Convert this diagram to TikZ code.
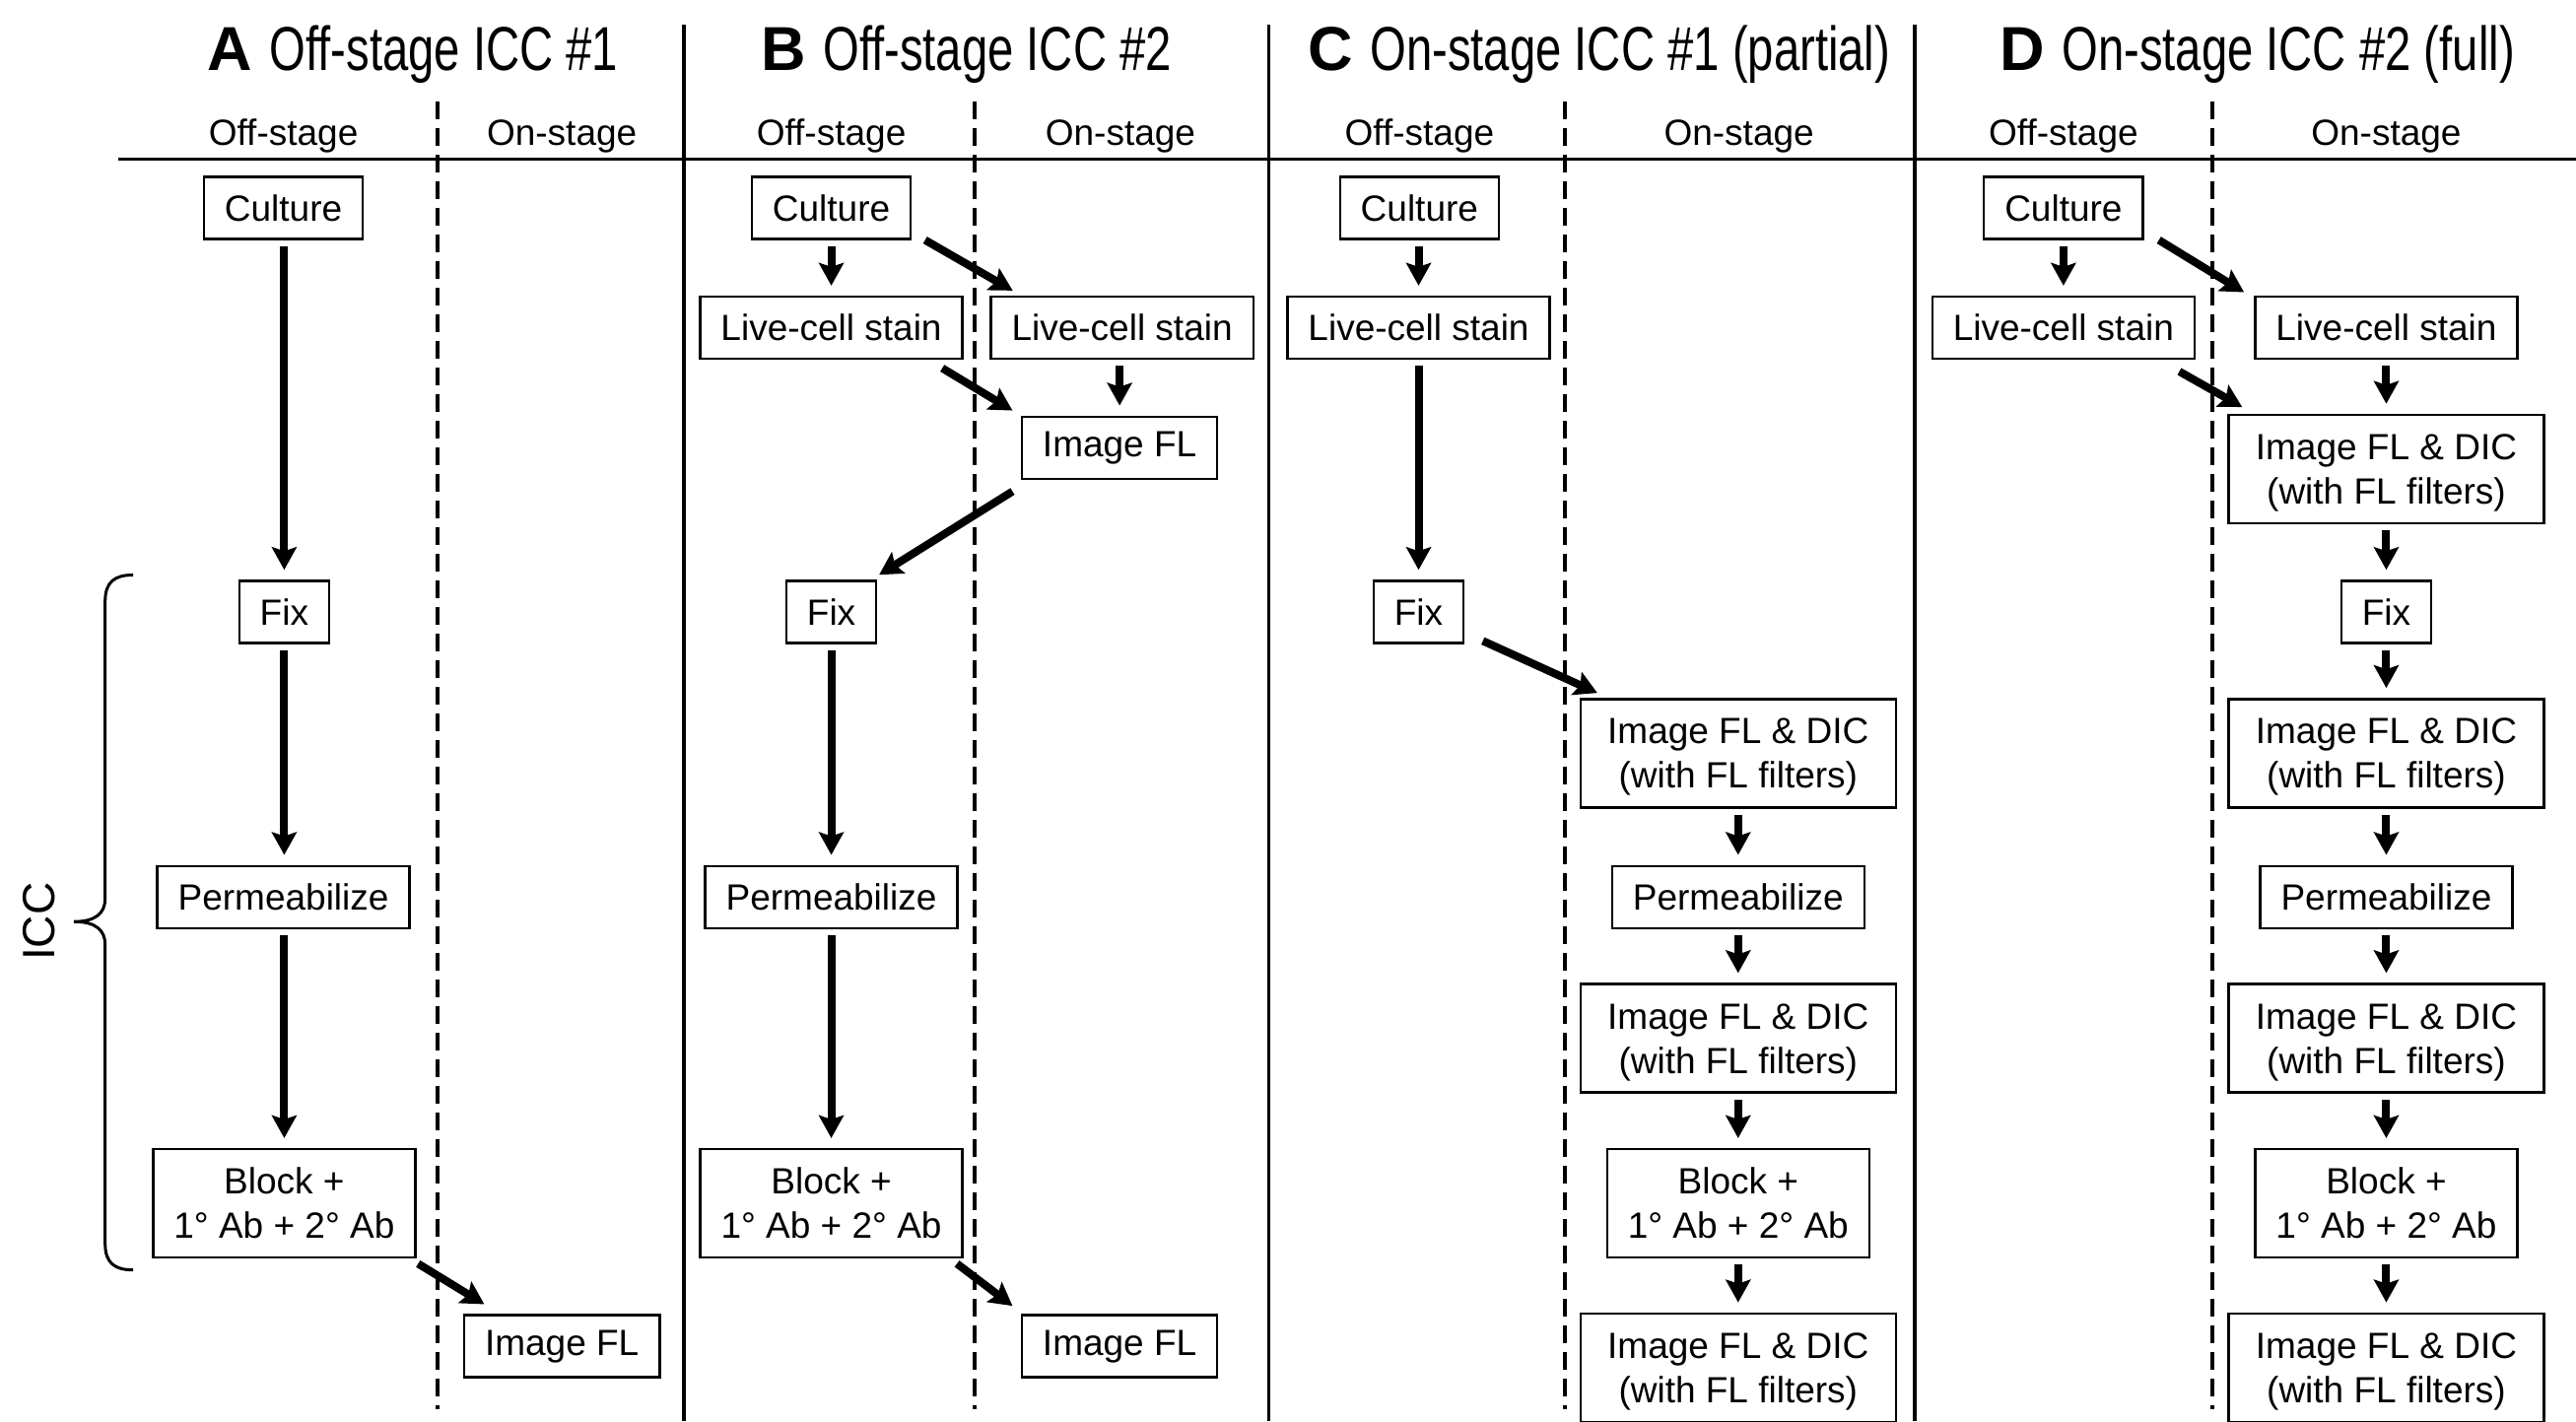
\documentclass[tikz,border=0pt]{standalone}
\usepackage{fontspec}
\setmainfont{Liberation Sans}
\newfontfamily\narrowsans[FakeStretch=0.75]{Liberation Sans}
\usetikzlibrary{arrows.meta}
\newcommand\boxfont{\fontsize{18.5}{22.5}\selectfont}
\newcommand\titlesize{\fontsize{31.5}{36}\selectfont}
\newcommand\iccsize{\fontsize{23}{26}\selectfont}

\begin{document}
\begin{tikzpicture}[x=0.8335pt,y=-0.8335pt,
  stepbox/.style={draw,line width=1.2pt,inner xsep=10.5pt,inner ysep=0pt,minimum height=31.5pt,font=\boxfont},
  twobox/.style={stepbox,align=center,minimum height=55pt},
  imgbox/.style={twobox,minimum width=160pt,text depth=0pt},
  head/.style={anchor=base,font=\boxfont},
  flow/.style={line width=4pt,-{Stealth[length=11.5pt,width=12.5pt,inset=2pt]}},
  down/.style={flow,shorten <=3pt,shorten >=5pt},
  lane/.style={line width=2pt,dash pattern=on 9pt off 4.5pt},
  rule/.style={line width=1.7pt}]
\useasboundingbox (0,0) rectangle (1568,865);

% grid
\draw[rule] (72,97) -- (1568,97);
\foreach \xs in {416.3,772.3,1165.5} \draw[rule] (\xs,15) -- (\xs,865);
\foreach \xd in {266.4,593.4,952.6,1346.5} \draw[lane] (\xd,62) -- (\xd,858);

\node[anchor=base west,font=\titlesize] (ttlA) at (122,43) {\textbf{A} {\narrowsans Off-stage ICC \#1}};
\node[anchor=base west,font=\titlesize] (ttlB) at (459,43) {\textbf{B} {\narrowsans Off-stage ICC \#2}};
\node[anchor=base west,font=\titlesize] (ttlC) at (792,43) {\textbf{C} {\narrowsans On-stage ICC \#1 (partial)}};
\node[anchor=base west,font=\titlesize] (ttlD) at (1213,43) {\textbf{D} {\narrowsans On-stage ICC \#2 (full)}};
\foreach \xo/\xn/\p in {172.5/342/A,506/682/B,864/1058.5/C,1256/1452.5/D} {
  \node[head] (off\p) at (\xo,88.6) {Off-stage};
  \node[head] (on\p) at (\xn,88.6) {On-stage};
}

% A
\node[stepbox] (acult) at (172.5,126.5) {Culture};
\node[stepbox] (afix) at (173,372.5) {Fix};
\node[stepbox] (aperm) at (172.5,546) {Permeabilize};
\node[twobox] (ablock) at (173,732.5) {Block +\\1° Ab + 2° Ab};
\node[stepbox] (aimg) at (342,819.5) {Image FL};
\draw[down] (afix.north |- acult.south) -- (afix.north);
\draw[down] (afix.south) -- (afix.south |- aperm.north);
\draw[down] (afix.south |- aperm.south) -- (afix.south |- ablock.north);
\draw[flow] ([shift={(1,3)}]ablock.south east) -- ([shift={(13,-6)}]aimg.north west);

% B
\node[stepbox] (bcult) at (506,126.5) {Culture};
\node[stepbox] (blive) at (506,199.5) {Live-cell stain};
\node[stepbox] (bliveon) at (683,199.5) {Live-cell stain};
\node[stepbox] (bimg) at (681.5,272.5) {Image FL};
\node[stepbox] (bfix) at (506,372.5) {Fix};
\node[stepbox] (bperm) at (506,546) {Permeabilize};
\node[twobox] (bblock) at (506,732.5) {Block +\\1° Ab + 2° Ab};
\node[stepbox] (bimg2) at (681.5,819.5) {Image FL};
\draw[down] (bcult.south) -- (blive.north);
\draw[flow] ([shift={(8,0)}]bcult.south east) -- ([shift={(14,-3)}]bliveon.north west);
\draw[flow] ([shift={(-13,5)}]blive.south east) -- ([shift={(-5,-3)}]bimg.north west);
\draw[down] (bimg.north |- bliveon.south) -- (bimg.north);
\draw[flow] ([shift={(-5,7)}]bimg.south west) -- ([shift={(1,-3)}]bfix.north east);
\draw[down] (bfix.south) -- (bperm.north);
\draw[down] (bperm.south) -- (bblock.north);
\draw[flow] ([shift={(-4,3)}]bblock.south east) -- ([shift={(-5,-5)}]bimg2.north west);

% C
\node[stepbox] (ccult) at (864,126.5) {Culture};
\node[stepbox] (clive) at (863.5,199.5) {Live-cell stain};
\node[stepbox] (cfix) at (863.5,372.5) {Fix};
\node[imgbox] (cimg1) at (1058,458.5) {Image FL \& DIC\\(with FL filters)};
\node[stepbox] (cperm) at (1058,546) {Permeabilize};
\node[imgbox] (cimg2) at (1058,632) {Image FL \& DIC\\(with FL filters)};
\node[twobox] (cblock) at (1058,732.5) {Block +\\1° Ab + 2° Ab};
\node[imgbox] (cimg3) at (1058,832.5) {Image FL \& DIC\\(with FL filters)};
\draw[down] (clive.north |- ccult.south) -- (clive.north);
\draw[down] (clive.south) -- (cfix.north);
\draw[flow] ([shift={(11,-2)}]cfix.south east) -- ([shift={(11,-3)}]cimg1.north west);
\draw[down] (cimg1.south) -- (cperm.north);
\draw[down] (cperm.south) -- (cimg2.north);
\draw[down] (cimg2.south) -- (cblock.north);
\draw[down] (cblock.south) -- (cimg3.north);

% D
\node[stepbox] (dcult) at (1256,126.5) {Culture};
\node[stepbox] (dlive) at (1256,199.5) {Live-cell stain};
\node[stepbox] (dliveon) at (1452.5,199.5) {Live-cell stain};
\node[imgbox] (dimg1) at (1452.5,285.5) {Image FL \& DIC\\(with FL filters)};
\node[stepbox] (dfix) at (1452.5,372.5) {Fix};
\node[imgbox] (dimg2) at (1452.5,458.5) {Image FL \& DIC\\(with FL filters)};
\node[stepbox] (dperm) at (1452.5,546) {Permeabilize};
\node[imgbox] (dimg3) at (1452.5,632) {Image FL \& DIC\\(with FL filters)};
\node[twobox] (dblock) at (1452.5,732.5) {Block +\\1° Ab + 2° Ab};
\node[imgbox] (dimg4) at (1452.5,832.5) {Image FL \& DIC\\(with FL filters)};
\draw[down] (dcult.south) -- (dlive.north);
\draw[flow] ([shift={(9,0)}]dcult.south east) -- ([shift={(-6,-2)}]dliveon.north west);
\draw[flow] ([shift={(-10,7)}]dlive.south east) -- ([shift={(9,-4)}]dimg1.north west);
\draw[down] (dliveon.south) -- (dimg1.north);
\draw[down] (dimg1.south) -- (dfix.north);
\draw[down] (dfix.south) -- (dimg2.north);
\draw[down] (dimg2.south) -- (dperm.north);
\draw[down] (dperm.south) -- (dimg3.north);
\draw[down] (dimg3.south) -- (dblock.north);
\draw[down] (dblock.south) -- (dimg4.north);

% ICC brace
\draw[line width=1.5pt] (81,350) .. controls (70,350) and (64,354) .. (64,366) -- (64,547)
  .. controls (64,556) and (58,561) .. (45,561) .. controls (58,561) and (64,566) .. (64,575)
  -- (64,757) .. controls (64,769) and (70,773) .. (81,773);
\node[font=\iccsize,rotate=90] (icc) at (23.5,561) {ICC};
\end{tikzpicture}
\end{document}
